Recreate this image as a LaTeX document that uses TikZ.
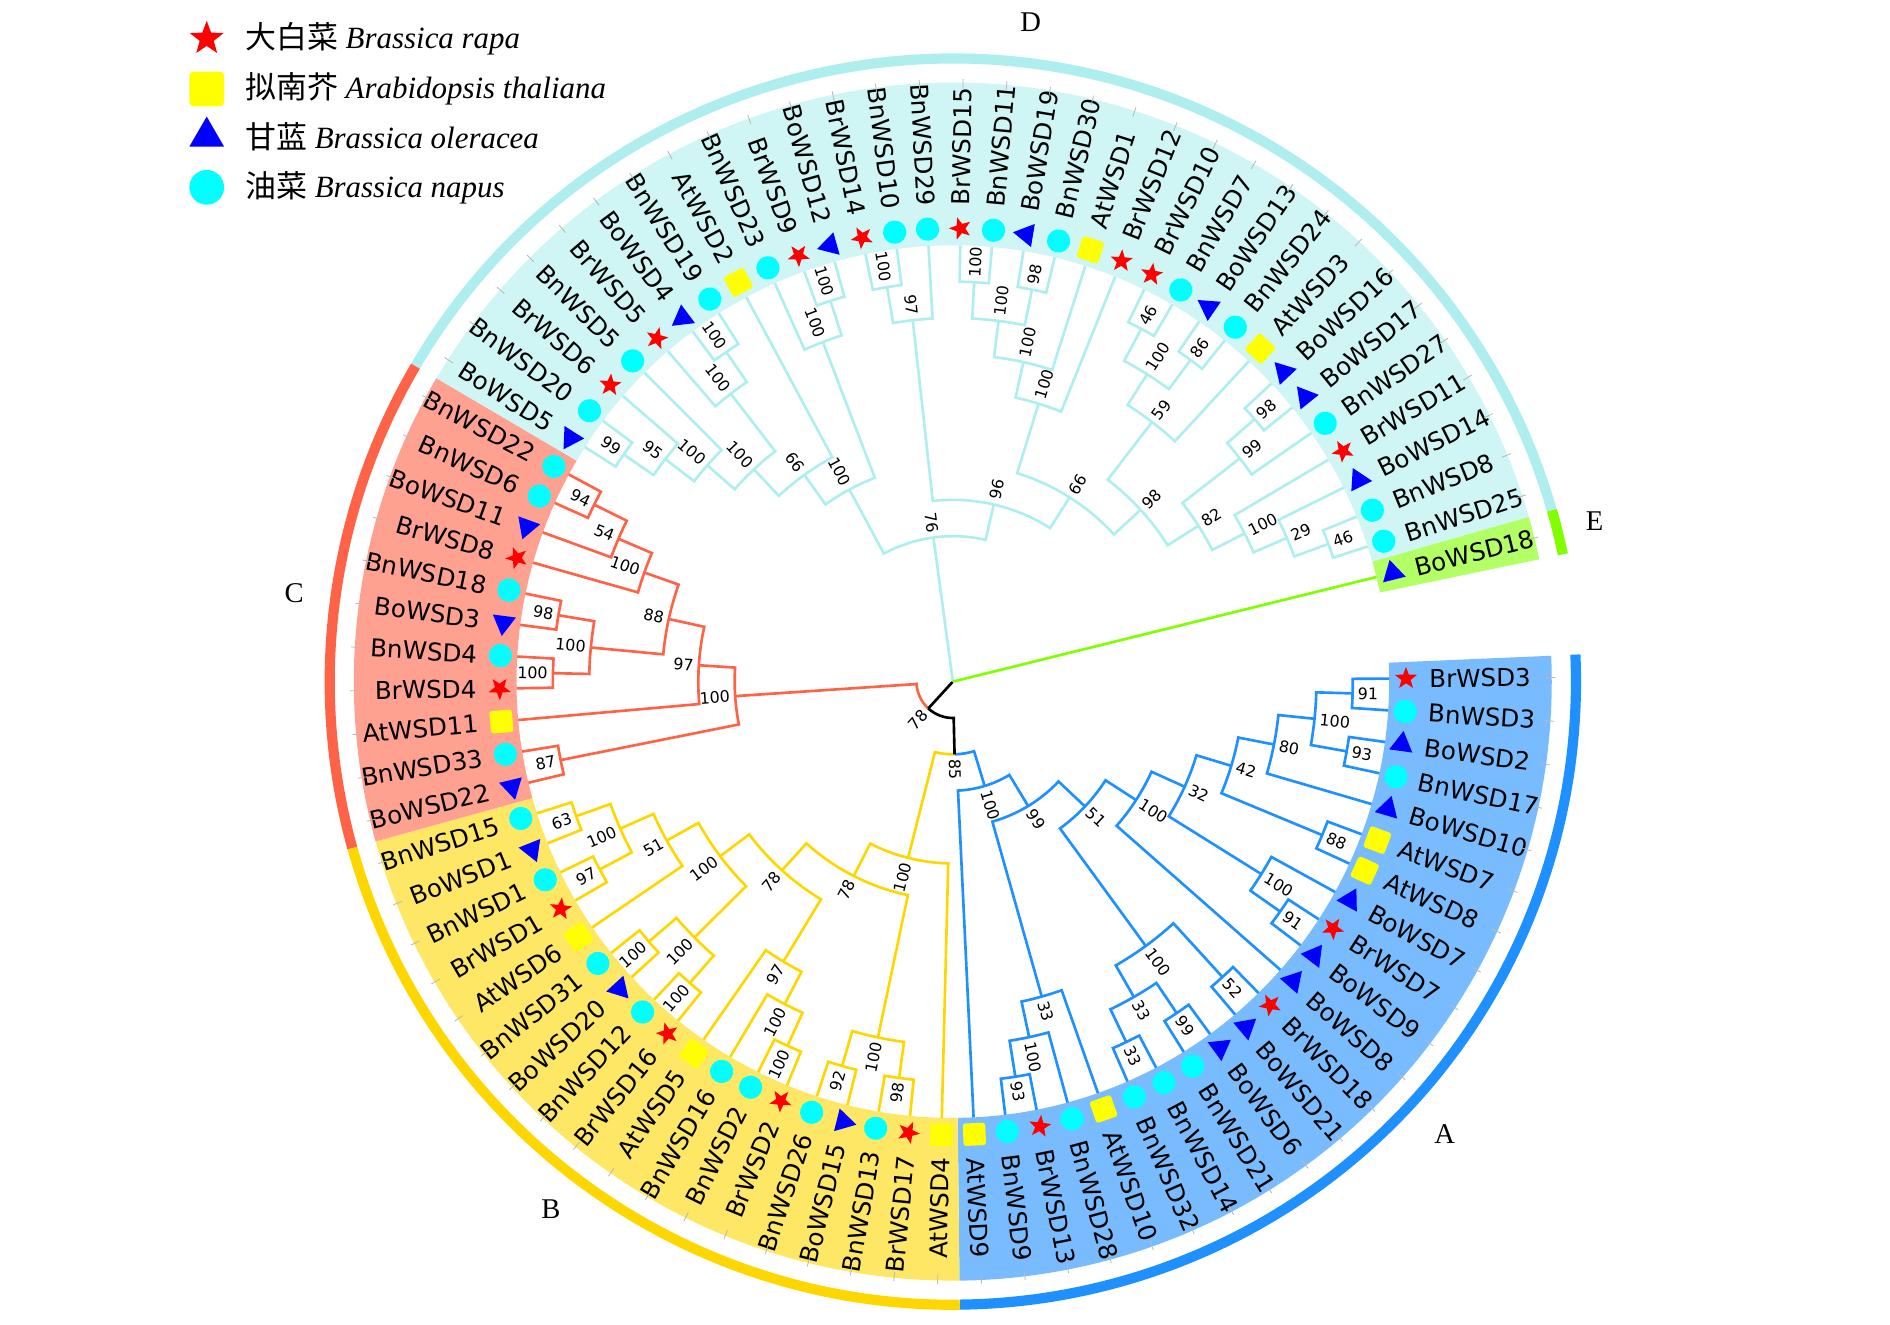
\documentclass[tikz,border=0pt]{standalone}
\usepackage{fontspec}
\setmainfont{Liberation Serif}
\setsansfont{DejaVu Sans}
\newfontfamily\cjk{Noto Sans CJK SC}
\usepackage{tikz}
\usepackage{xcolor}
\usetikzlibrary{shapes.geometric, positioning}

\definecolor{cladeA}{RGB}{30,144,255}
\definecolor{cladeB}{RGB}{255,215,0}
\definecolor{cladeC}{RGB}{255,99,71}
\definecolor{cladeD}{RGB}{175,238,238}
\definecolor{cladeE}{RGB}{127,255,0}
\definecolor{napusfill}{RGB}{0,255,255}
\definecolor{rapafill}{RGB}{255,0,0}
\definecolor{thalfill}{RGB}{255,255,0}
\definecolor{olerfill}{RGB}{0,0,255}

\tikzset{
  branch/.style={line width=1.25pt},
  bootval/.style={font=\sffamily\fontsize{7.5}{8}\selectfont, inner sep=0pt},
  leafname/.style={font=\sffamily\fontsize{11.6}{13}\selectfont, inner sep=0pt},
  tickmark/.style={gray!55, line width=0.4pt},
  cladename/.style={font=\fontsize{13.5}{16}\selectfont},
  keytext/.style={font=\fontsize{14.6}{16}\selectfont, inner sep=0pt},
  mkBr/.style={star, star points=5, star point ratio=2.4, fill=rapafill, inner sep=0pt, minimum size=11pt},
  mkAt/.style={rectangle, rounded corners=1.2pt, fill=thalfill, inner sep=0pt, minimum size=10.6pt},
  mkBo/.style={regular polygon, regular polygon sides=3, fill=olerfill, inner sep=0pt, minimum size=12.7pt},
  mkBn/.style={circle, fill=napusfill, inner sep=0pt, minimum size=11pt},
}

% angle of every tree node, kept by name
\newcommand\putnode[2]{\expandafter\xdef\csname taN#1\endcsname{#2}}
\newcommand\angof[1]{\csname taN#1\endcsname}

\newcommand\support[4]{%
  \pgfmathsetmacro\trS{#3+4}%
  \pgfmathtruncatemacro\trSide{cos(#2)>0}%
  \ifnum\trSide=1
    \node[bootval, anchor=west, rotate=#2] (s#1) at (#2:\trS) {#4};%
  \else
    \pgfmathsetmacro\trT{#2-180}%
    \node[bootval, anchor=east, rotate=\trT] (s#1) at (#2:\trS) {#4};%
  \fi}

% colour, name, height, child, child, support
\newcommand\clade[6]{%
  \pgfmathsetmacro\trA{\angof{#4}}%
  \pgfmathsetmacro\trB{\angof{#5}}%
  \pgfmathsetmacro\trM{(\trA+\trB)/2}%
  \pgfmathsetmacro\trR{362-362*#3/12}%
  \pgfmathsetmacro\trC{\trR*0.02}%
  \coordinate (#2) at (\trM:\trR);%
  \putnode{#2}{\trM}%
  \draw[branch,#1] (#4) -- (\trA:\trR) arc[start angle=\trA, end angle=\trB, radius=\trC cm] -- (#5);%
  \support{#2}{\trM}{\trR}{#6}}

% name, height, child, colour, child, colour, support
\newcommand\joint[7]{%
  \pgfmathsetmacro\trA{\angof{#3}}%
  \pgfmathsetmacro\trB{\angof{#5}}%
  \pgfmathsetmacro\trM{(\trA+\trB)/2}%
  \pgfmathsetmacro\trR{362-362*#2/12}%
  \pgfmathsetmacro\trC{\trR*0.02}%
  \coordinate (#1) at (\trM:\trR);%
  \putnode{#1}{\trM}%
  \draw[branch,#4] (#3) -- (\trA:\trR) arc[start angle=\trA, end angle=\trM, radius=\trC cm];%
  \draw[branch,#6] (#1) arc[start angle=\trM, end angle=\trB, radius=\trC cm] -- (#5);%
  \support{#1}{\trM}{\trR}{#7}}

\newcommand\cladeband[3]{%
  \pgfmathsetmacro\bdA{0.4-4.175*#2+2.0875}%
  \pgfmathsetmacro\bdB{0.4-4.175*#3-2.0875}%
  \fill[#1!60] (\bdA:362) arc[start angle=\bdA, end angle=\bdB, radius=7.24cm]
    -- (\bdB:497) arc[start angle=\bdB, end angle=\bdA, radius=9.94cm] -- cycle;%
  \draw[#1, line width=4.8pt] (\bdA:517) arc[start angle=\bdA, end angle=\bdB, radius=10.34cm];}

\begin{document}
\begin{tikzpicture}[x=0.02cm, y=0.02cm]
  \useasboundingbox (-790.5,-533.5) rectangle (777.5,565.5);

  \cladeband{cladeA}{0}{21}
  \cladeband{cladeB}{22}{39}
  \cladeband{cladeC}{40}{50}
  \cladeband{cladeD}{51}{82}
  \cladeband{cladeE}{83}{83}

  \foreach \i/\spc/\nm in {0/Br/3, 1/Bn/3, 2/Bo/2, 3/Bn/17, 4/Bo/10, 5/At/7, 6/At/8, 7/Bo/7,
      8/Br/7, 9/Bo/9, 10/Bo/8, 11/Br/18, 12/Bo/21, 13/Bo/6, 14/Bn/21, 15/Bn/14, 16/Bn/32,
      17/At/10, 18/Bn/28, 19/Br/13, 20/Bn/9, 21/At/9,
      22/At/4, 23/Br/17, 24/Bn/13, 25/Bo/15, 26/Bn/26, 27/Br/2, 28/Bn/2, 29/Bn/16, 30/At/5,
      31/Br/16, 32/Bn/12, 33/Bo/20, 34/Bn/31, 35/At/6, 36/Br/1, 37/Bn/1, 38/Bo/1, 39/Bn/15,
      40/Bo/22, 41/Bn/33, 42/At/11, 43/Br/4, 44/Bn/4, 45/Bo/3, 46/Bn/18, 47/Br/8, 48/Bo/11,
      49/Bn/6, 50/Bn/22,
      51/Bo/5, 52/Bn/20, 53/Br/6, 54/Bn/5, 55/Br/5, 56/Bo/4, 57/Bn/19, 58/At/2, 59/Bn/23,
      60/Br/9, 61/Bo/12, 62/Br/14, 63/Bn/10, 64/Bn/29, 65/Br/15, 66/Bn/11, 67/Bo/19, 68/Bn/30,
      69/At/1, 70/Br/12, 71/Br/10, 72/Bn/7, 73/Bo/13, 74/Bn/24, 75/At/3, 76/Bo/16, 77/Bo/17,
      78/Bn/27, 79/Br/11, 80/Bo/14, 81/Bn/8, 82/Bn/25,
      83/Bo/18}{
    \pgfmathsetmacro\lfA{0.4-4.175*\i}
    \pgfmathtruncatemacro\lfSide{cos(\lfA)>0}
    \coordinate (L\i) at (\lfA:362);
    \putnode{L\i}{\lfA}
    \node[mk\spc, rotate=\lfA] (m\i) at (\lfA:376) {};
    \ifnum\lfSide=1
      \node[leafname, anchor=west, rotate=\lfA] (t\i) at (\lfA:395) {\spc WSD\nm};
    \else
      \pgfmathsetmacro\lfB{\lfA-180}
      \node[leafname, anchor=east, rotate=\lfB] (t\i) at (\lfA:395) {\spc WSD\nm};
    \fi
    \draw[tickmark] (\lfA:492) -- (\lfA:500);
  }

  \clade{cladeA}{a8}{1}{L0}{L1}{91}
  \clade{cladeA}{a9}{1}{L2}{L3}{93}
  \clade{cladeA}{a7}{2}{a8}{a9}{100}
  \clade{cladeA}{a6}{3}{a7}{L4}{80}
  \clade{cladeA}{a10}{1}{L5}{L6}{88}
  \clade{cladeA}{a5}{4}{a6}{a10}{42}
  \clade{cladeA}{a12}{1}{L8}{L9}{91}
  \clade{cladeA}{a11}{2}{L7}{a12}{100}
  \clade{cladeA}{a4}{5}{a5}{a11}{32}
  \clade{cladeA}{a3}{6}{a4}{L10}{100}
  \clade{cladeA}{a14}{1}{L11}{L12}{52}
  \clade{cladeA}{a16}{1}{L13}{L14}{99}
  \clade{cladeA}{a17}{1}{L15}{L16}{33}
  \clade{cladeA}{a15}{2}{a16}{a17}{33}
  \clade{cladeA}{a13}{3}{a14}{a15}{100}
  \clade{cladeA}{a2}{7}{a3}{a13}{51}
  \clade{cladeA}{a20}{1}{L19}{L20}{93}
  \clade{cladeA}{a19}{2}{L18}{a20}{100}
  \clade{cladeA}{a18}{3}{L17}{a19}{33}
  \clade{cladeA}{a1}{8}{a2}{a18}{99}
  \clade{cladeA}{a0}{9}{a1}{L21}{100}

  \clade{cladeB}{b1}{1}{L23}{L24}{98}
  \clade{cladeB}{b2}{1}{L25}{L26}{92}
  \clade{cladeB}{b3}{2}{b2}{b1}{100}
  \clade{cladeB}{b17}{1}{L27}{L28}{100}
  \clade{cladeB}{b16}{2}{b17}{L29}{100}
  \clade{cladeB}{b15}{3}{b16}{L30}{97}
  \clade{cladeB}{b14}{1}{L31}{L32}{100}
  \clade{cladeB}{b13}{1}{L33}{L34}{100}
  \clade{cladeB}{b12}{2}{b14}{b13}{100}
  \clade{cladeB}{b11}{1}{L36}{L37}{97}
  \clade{cladeB}{b10}{1}{L38}{L39}{63}
  \clade{cladeB}{b9}{2}{b11}{b10}{100}
  \clade{cladeB}{b8}{3}{L35}{b9}{51}
  \clade{cladeB}{b7}{4}{b12}{b8}{100}
  \clade{cladeB}{b6}{5}{b15}{b7}{78}
  \clade{cladeB}{b5}{6}{b3}{b6}{78}
  \clade{cladeB}{b0}{7}{L22}{b5}{100}

  \clade{cladeC}{c1}{1}{L49}{L50}{94}
  \clade{cladeC}{c2}{2}{L48}{c1}{54}
  \clade{cladeC}{c3}{3}{L47}{c2}{100}
  \clade{cladeC}{c5}{1}{L45}{L46}{98}
  \clade{cladeC}{c6}{1}{L43}{L44}{100}
  \clade{cladeC}{c4}{2}{c6}{c5}{100}
  \clade{cladeC}{c7}{4}{c4}{c3}{88}
  \clade{cladeC}{c8}{5}{L42}{c7}{97}
  \clade{cladeC}{c9}{1}{L40}{L41}{87}
  \clade{cladeC}{c0}{6}{c9}{c8}{100}

  \clade{cladeD}{d1}{1}{L51}{L52}{99}
  \clade{cladeD}{d2}{2}{d1}{L53}{95}
  \clade{cladeD}{d3}{3}{d2}{L54}{100}
  \clade{cladeD}{d5a}{1}{L56}{L57}{100}
  \clade{cladeD}{d5}{2}{L55}{d5a}{100}
  \clade{cladeD}{d4}{4}{d3}{d5}{100}
  \clade{cladeD}{d6}{5}{d4}{L58}{66}
  \clade{cladeD}{d9}{1}{L60}{L61}{100}
  \clade{cladeD}{d8}{2}{L59}{d9}{100}
  \clade{cladeD}{d7}{6}{d6}{d8}{100}
  \clade{cladeD}{d12a}{1}{L62}{L63}{100}
  \clade{cladeD}{d12}{2}{d12a}{L64}{97}
  \clade{cladeD}{d13a}{1}{L65}{L66}{100}
  \clade{cladeD}{d14a}{1}{L67}{L68}{98}
  \clade{cladeD}{d13}{2}{d13a}{d14a}{100}
  \clade{cladeD}{d14}{3}{d13}{L69}{100}
  \clade{cladeD}{d15}{4}{d14}{L70}{100}
  \clade{cladeD}{d16a}{1}{L71}{L72}{46}
  \clade{cladeD}{d16b}{1}{L73}{L74}{86}
  \clade{cladeD}{d16}{2}{d16a}{d16b}{100}
  \clade{cladeD}{d17}{3}{d16}{L75}{59}
  \clade{cladeD}{d18a}{1}{L76}{L77}{98}
  \clade{cladeD}{d18}{2}{d18a}{L78}{99}
  \clade{cladeD}{d23}{1}{L81}{L82}{46}
  \clade{cladeD}{d22}{2}{L80}{d23}{29}
  \clade{cladeD}{d21}{3}{L79}{d22}{100}
  \clade{cladeD}{d20}{4}{d18}{d21}{82}
  \clade{cladeD}{d19}{5}{d17}{d20}{98}
  \clade{cladeD}{d24}{6}{d15}{d19}{66}
  \clade{cladeD}{d10}{7}{d12}{d24}{96}
  \clade{cladeD}{d0}{8}{d7}{d10}{76}

  \joint{ab}{10}{a0}{cladeA}{b0}{cladeB}{85}
  \joint{r1}{11}{c0}{cladeC}{ab}{black}{78}
  \coordinate (root) at (0,0);
  \draw[branch, black] (root) -- (r1);
  \draw[branch, cladeD] (root) -- (d0);
  \draw[branch, cladeE] (root) -- (L83);

  \node[cladename] (nameA) at (408,-375) {A};
  \node[cladename] (nameB) at (-333.5,-437.5) {B};
  \node[cladename] (nameC) at (-546.5,73.5) {C};
  \node[cladename] (nameD) at (64.5,547.5) {D};
  \node[cladename] (nameE) at (532.5,133.5) {E};

  \node[mkBr, minimum size=16.8pt] (keyBr) at (-619,533.5) {};
  \node[mkAt, minimum size=16.4pt, rounded corners=2pt] (keyAt) at (-619,491.7) {};
  \node[mkBo, minimum size=19pt] (keyBo) at (-619,452.1) {};
  \node[mkBn, minimum size=16.4pt] (keyBn) at (-619,410.1) {};
  \node[keytext, right=18pt of keyBr.center] (txtBr) {{\cjk 大白菜} \textit{Brassica rapa}};
  \node[keytext, right=18pt of keyAt.center] (txtAt) {{\cjk 拟南芥} \textit{Arabidopsis thaliana}};
  \node[keytext, right=18pt of keyBo.center] (txtBo) {{\cjk 甘蓝} \textit{Brassica oleracea}};
  \node[keytext, right=18pt of keyBn.center] (txtBn) {{\cjk 油菜} \textit{Brassica napus}};
\end{tikzpicture}
\end{document}
